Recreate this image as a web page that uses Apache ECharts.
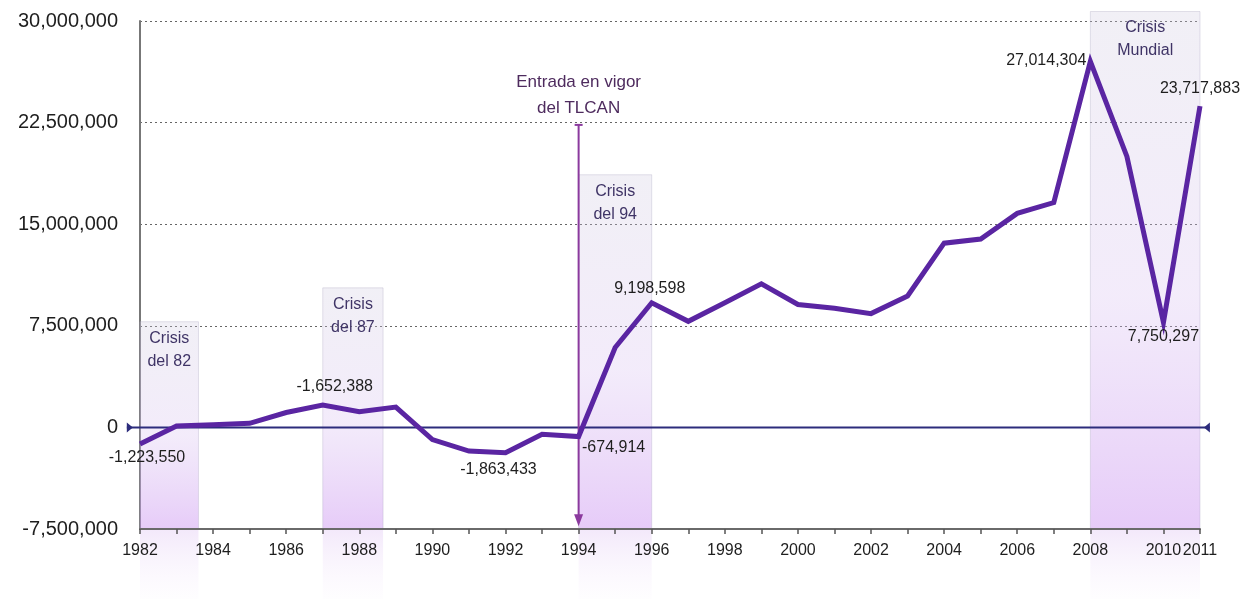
<!DOCTYPE html>
<html>
<head>
<meta charset="utf-8">
<script src="https://cdn.jsdelivr.net/npm/echarts@6/dist/echarts.min.js"></script>
<style>
  html, body { margin: 0; padding: 0; background: #ffffff; }
  #chart { width: 1252px; height: 599px; }
</style>
</head>
<body>
<div id="chart"></div>
<script>
// Saldo anual, 1982-2011
const years = [1982, 1983, 1984, 1985, 1986, 1987, 1988, 1989, 1990, 1991,
               1992, 1993, 1994, 1995, 1996, 1997, 1998, 1999, 2000, 2001,
               2002, 2003, 2004, 2005, 2006, 2007, 2008, 2009, 2010, 2011];
const balance = [-1223550, 100000, 200000, 300000, 1100000, 1652388, 1150000, 1500000, -900000, -1750000,
                 -1863433, -500000, -674914, 5900000, 9198598, 7830000, 9200000, 10600000, 9070000, 8800000,
                 8400000, 9700000, 13600000, 13900000, 15800000, 16600000, 27014304, 20000000, 7750297, 23717883];

// Annotated points and their printed text
const labelYears = [1982, 1987, 1992, 1994, 1996, 2008, 2010, 2011];
const labelTexts = ['-1,223,550', '-1,652,388', '-1,863,433', '-674,914',
                    '9,198,598', '27,014,304', '7,750,297', '23,717,883'];

// Axis ticks
const xLabelYears = [1982, 1984, 1986, 1988, 1990, 1992, 1994, 1996, 1998, 2000, 2002, 2004, 2006, 2008, 2010, 2011];
const yMin = -7500000, yMax = 30000000, yStep = 7500000;

// Crisis periods (start year, end year, shaded up to value)
const crisisStart = [1982, 1987, 1994, 2008];
const crisisEnd = [1983.6, 1988.65, 1996, 2011];
const crisisTop = [7800000, 10300000, 18650000, 30700000];
const crisisNames = ['Crisis\ndel 82', 'Crisis\ndel 87', 'Crisis\ndel 94', 'Crisis\nMundial'];

// NAFTA marker
const tlcanYear = 1994;
const tlcanFrom = 22330000, tlcanTo = -7300000;
const tlcanText = 'Entrada en vigor\ndel TLCAN';

// Zero reference line span
const zeroSpan = [1981.64, 2011.27];

const FONT = '"Liberation Sans", Arial, Helvetica, sans-serif';

function thousands(n) {
  const s = String(Math.abs(Math.round(n))).replace(/\B(?=(\d{3})+(?!\d))/g, ',');
  return (n < 0 ? '-' : '') + s;
}

// where each value label sits relative to its point
const labelPlacement = {
  1982: { position: 'bottom', distance: 6, offset: [7, 0] },
  1987: { position: 'top', distance: 10, offset: [12, 0] },
  1992: { position: 'bottom', distance: 9, offset: [-7, 0] },
  1994: { position: 'bottom', distance: 3, offset: [35, 0] },
  1996: { position: 'top', distance: 6, offset: [-2, 0] },
  2008: { position: 'left', distance: 4, offset: [0, -1] },
  2010: { position: 'bottom', distance: 6, offset: [0, 0] },
  2011: { position: 'top', distance: 9, offset: [0, 0] }
};

const lineData = years.map((y, i) => {
  const k = labelYears.indexOf(y);
  const item = { value: [y, balance[i]] };
  if (k >= 0) {
    const p = labelPlacement[y];
    item.label = {
      show: true,
      position: p.position,
      distance: p.distance,
      offset: p.offset,
      formatter: labelTexts[k],
      color: '#1e1e1e',
      fontSize: 16,
      fontFamily: FONT
    };
  }
  return item;
});

const crisisData = crisisStart.map((s, i) => [s, crisisEnd[i], crisisTop[i], i]);

const chart = echarts.init(document.getElementById('chart'), null, { renderer: 'canvas' });

chart.setOption({
  animation: false,
  backgroundColor: '#ffffff',
  grid: { left: 140, right: 52, top: 21, bottom: 70, containLabel: false },
  xAxis: {
    type: 'value',
    z: 10,
    min: 1982,
    max: 2011,
    interval: 1,
    axisLine: { show: true, onZero: false, lineStyle: { color: '#6a6a6a', width: 2 } },
    axisTick: { show: true, length: 5, lineStyle: { color: '#555555', width: 1.5 } },
    splitLine: { show: false },
    axisLabel: {
      margin: 14,
      color: '#1e1e1e',
      fontSize: 16,
      fontFamily: FONT,
      formatter: v => (xLabelYears.indexOf(v) >= 0 ? String(v) : '')
    }
  },
  yAxis: {
    type: 'value',
    min: yMin,
    max: yMax,
    interval: yStep,
    axisLine: { show: true, lineStyle: { color: '#777777', width: 2 } },
    axisTick: { show: false },
    splitLine: { show: true, lineStyle: { color: '#666666', width: 1, type: [2, 3] } },
    axisLabel: {
      margin: 22,
      color: '#1e1e1e',
      fontSize: 20,
      fontFamily: FONT,
      formatter: v => thousands(v)
    }
  },
  series: [
    {
      // shaded crisis periods
      type: 'custom',
      name: 'crisis',
      z: 1,
      silent: true,
      clip: false,
      data: crisisData,
      encode: { x: [0, 1], y: 2 },
      renderItem: function (params, api) {
        const i = api.value(3);
        const tl = api.coord([api.value(0), api.value(2)]);
        const br = api.coord([api.value(1), yMin]);
        const fade = api.coord([api.value(1), yMin - 5300000]);
        const w = br[0] - tl[0];
        return {
          type: 'group',
          children: [
            {
              type: 'rect',
              shape: { x: tl[0], y: tl[1], width: w, height: br[1] - tl[1] },
              style: {
                fill: new echarts.graphic.LinearGradient(0, 0, 0, 1, [
                  { offset: 0, color: 'rgba(205,200,222,0.28)' },
                  { offset: 0.55, color: 'rgba(215,190,240,0.30)' },
                  { offset: 1, color: 'rgba(200,140,240,0.45)' }
                ]),
                stroke: 'rgba(175,170,195,0.35)',
                lineWidth: 1
              }
            },
            {
              type: 'rect',
              shape: { x: tl[0], y: br[1], width: w, height: fade[1] - br[1] },
              style: {
                fill: new echarts.graphic.LinearGradient(0, 0, 0, 1, [
                  { offset: 0, color: 'rgba(215,180,240,0.30)' },
                  { offset: 1, color: 'rgba(240,225,250,0.05)' }
                ])
              }
            },
            {
              type: 'text',
              x: tl[0] + w / 2,
              y: tl[1] + 5,
              style: {
                text: crisisNames[i],
                fill: '#3f3466',
                font: '16px ' + FONT,
                align: 'center',
                verticalAlign: 'top',
                lineHeight: 23
              }
            }
          ]
        };
      }
    },
    {
      // zero reference line with end markers
      type: 'custom',
      name: 'cero',
      z: 3,
      silent: true,
      clip: false,
      data: [[zeroSpan[0], zeroSpan[1], 0]],
      encode: { x: [0, 1], y: 2 },
      renderItem: function (params, api) {
        const a = api.coord([api.value(0), api.value(2)]);
        const b = api.coord([api.value(1), api.value(2)]);
        const c = '#2c2c7c';
        return {
          type: 'group',
          children: [
            { type: 'line', shape: { x1: a[0], y1: a[1], x2: b[0], y2: b[1] }, style: { stroke: c, lineWidth: 2 } },
            { type: 'polygon', shape: { points: [[a[0], a[1] - 5], [a[0] + 6, a[1]], [a[0], a[1] + 5]] }, style: { fill: c } },
            { type: 'polygon', shape: { points: [[b[0], b[1] - 5], [b[0] - 6, b[1]], [b[0], b[1] + 5]] }, style: { fill: c } }
          ]
        };
      }
    },
    {
      // NAFTA entry-into-force marker
      type: 'custom',
      name: 'tlcan',
      z: 3,
      silent: true,
      clip: false,
      data: [[tlcanYear, tlcanFrom, tlcanTo]],
      encode: { x: 0, y: [1, 2] },
      renderItem: function (params, api) {
        const top = api.coord([api.value(0), api.value(1)]);
        const bot = api.coord([api.value(0), api.value(2)]);
        const c = '#8b3a9e';
        return {
          type: 'group',
          children: [
            { type: 'line', shape: { x1: top[0], y1: top[1], x2: bot[0], y2: bot[1] - 10 }, style: { stroke: c, lineWidth: 2 } },
            { type: 'line', shape: { x1: top[0] - 4, y1: top[1], x2: top[0] + 4, y2: top[1] }, style: { stroke: c, lineWidth: 2 } },
            { type: 'polygon', shape: { points: [[bot[0] - 4.5, bot[1] - 12], [bot[0] + 4.5, bot[1] - 12], [bot[0], bot[1]]] }, style: { fill: c } },
            {
              type: 'text',
              x: top[0],
              y: top[1] - 4,
              style: {
                text: tlcanText,
                fill: '#4e2b5e',
                font: '17px ' + FONT,
                align: 'center',
                verticalAlign: 'bottom',
                lineHeight: 26
              }
            }
          ]
        };
      }
    },
    {
      type: 'line',
      name: 'saldo',
      z: 4,
      data: lineData,
      symbol: 'circle',
      symbolSize: 0.1,
      showSymbol: true,
      itemStyle: { color: 'rgba(0,0,0,0)' },
      lineStyle: { color: '#5a25a2', width: 5, join: 'miter' },
      emphasis: { disabled: true },
      label: { show: false }
    }
  ]
});
</script>
</body>
</html>
